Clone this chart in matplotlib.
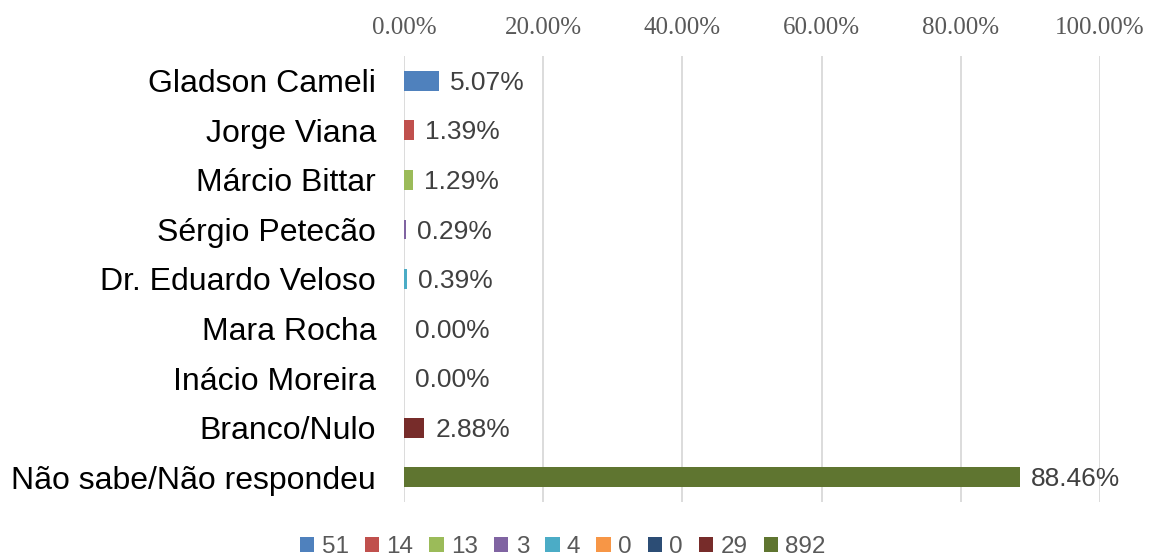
import matplotlib
matplotlib.use("Agg")
import matplotlib.pyplot as plt
from matplotlib.patches import Patch

categories = ["Gladson Cameli", "Jorge Viana", "Márcio Bittar", "Sérgio Petecão",
              "Dr. Eduardo Veloso", "Mara Rocha", "Inácio Moreira", "Branco/Nulo",
              "Não sabe/Não respondeu"]
percent = [5.07, 1.39, 1.29, 0.29, 0.39, 0.00, 0.00, 2.88, 88.46]
counts = ["51", "14", "13", "3", "4", "0", "0", "29", "892"]
colors = ["#4F81BD", "#C0504D", "#9BBB59", "#8064A2", "#4BACC6", "#F79646",
          "#2C4D75", "#772C2A", "#5F7530"]
xticks = [0, 20, 40, 60, 80, 100]

fig = plt.figure(figsize=(11.51, 5.56), dpi=100)
ax = fig.add_axes([404/1151, 1-502/556, (1100-404)/1151, (502-56)/556])

y = list(range(len(categories)))
ax.barh(y, percent, height=0.4, color=colors, zorder=3)
for yi, v in zip(y, percent):
    ax.annotate(f"{v:.2f}%", (v, yi), xytext=(8, -1.5), textcoords="offset points",
                va="center", ha="left", fontsize=19, color="#404040",
                family="Liberation Sans")

ax.set_xlim(0, 100)
ax.set_ylim(len(categories)-0.5, -0.5)
ax.set_xticks(xticks)
ax.set_xticklabels([f"{t:.2f}%" for t in xticks], family="Liberation Serif",
                   fontsize=18, color="#595959")
ax.xaxis.tick_top()
ax.tick_params(axis="x", length=0, pad=12)
ax.set_yticks(y)
ax.set_yticklabels(categories, family="Liberation Sans", fontsize=23, color="black")
ax.tick_params(axis="y", length=0, pad=20)
ax.grid(axis="x", color="#D9D9D9", linewidth=1.3, zorder=0)
for s in ax.spines.values():
    s.set_visible(False)

handles = [Patch(facecolor=c, edgecolor="none") for c in colors]
fig.legend(handles, counts, loc="center", bbox_to_anchor=(0.489, 0.016), ncol=9,
           frameon=False, prop={"family": "Liberation Sans", "size": 17.5},
           handlelength=0.6, handleheight=0.6, handletextpad=0.3, columnspacing=0.65,
           labelcolor="#595959")

fig.savefig("out.png", dpi=100)
